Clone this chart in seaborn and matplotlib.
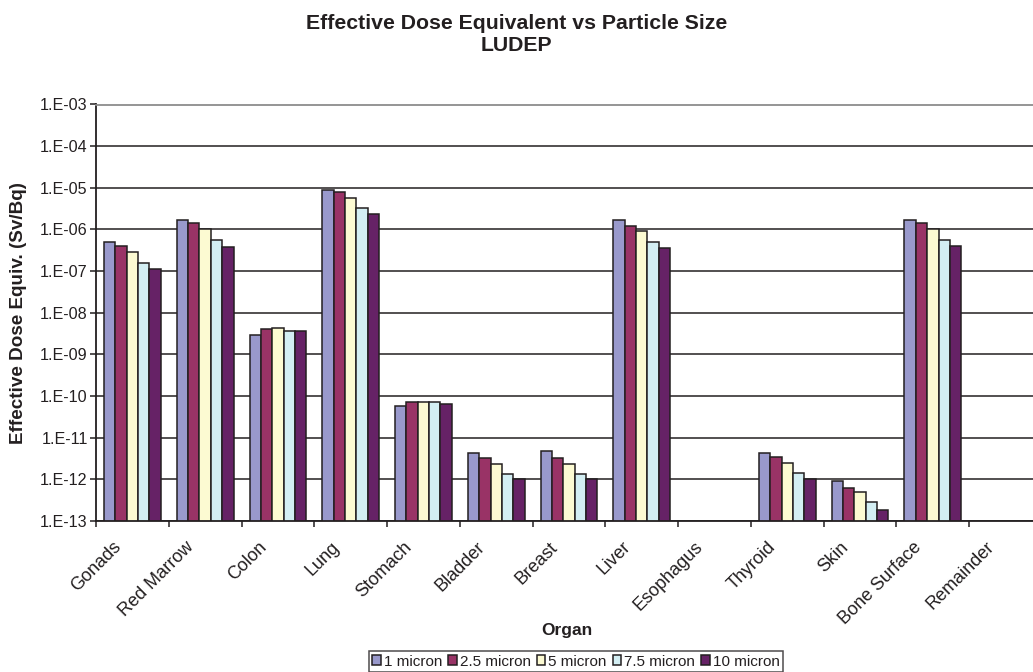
import numpy as np
import pandas as pd
import matplotlib
matplotlib.use("Agg")
import matplotlib.pyplot as plt
import matplotlib.ticker as mticker
import matplotlib.transforms as mtransforms
import seaborn as sns

# Organs on the x axis
organs = ["Gonads", "Red Marrow", "Colon", "Lung", "Stomach", "Bladder", "Breast",
          "Liver", "Esophagus", "Thyroid", "Skin", "Bone Surface", "Remainder"]

# Particle sizes (legend entries)
sizes = ["1 micron", "2.5 micron", "5 micron", "7.5 micron", "10 micron"]

# Effective dose equivalent (Sv/Bq) per organ, one list per particle size
dose_1 = [5.1e-7, 1.73e-6, 2.95e-9, 8.7e-6, 5.8e-11, 4.2e-12, 4.7e-12,
          1.73e-6, np.nan, 4.3e-12, 9.1e-13, 1.73e-6, np.nan]
dose_2_5 = [4.0e-7, 1.4e-6, 4.1e-9, 7.9e-6, 7.2e-11, 3.3e-12, 3.3e-12,
            1.22e-6, np.nan, 3.4e-12, 6.3e-13, 1.4e-6, np.nan]
dose_5 = [2.8e-7, 1.0e-6, 4.2e-9, 5.6e-6, 7.2e-11, 2.3e-12, 2.3e-12,
          9.1e-7, np.nan, 2.5e-12, 5.0e-13, 1.0e-6, np.nan]
dose_7_5 = [1.56e-7, 5.6e-7, 3.6e-9, 3.2e-6, 7.2e-11, 1.38e-12, 1.38e-12,
            5.1e-7, np.nan, 1.44e-12, 2.8e-13, 5.5e-7, np.nan]
dose_10 = [1.1e-7, 3.7e-7, 3.6e-9, 2.4e-6, 6.3e-11, 1.0e-12, 1.0e-12,
           3.5e-7, np.nan, 1.0e-12, 1.8e-13, 4.1e-7, np.nan]

colors = ["#9999CC", "#993366", "#FCFAD2", "#D3EEF3", "#662266"]

series = [dose_1, dose_2_5, dose_5, dose_7_5, dose_10]
df = pd.DataFrame({
    "Organ": np.tile(organs, len(sizes)),
    "Size": np.repeat(sizes, len(organs)),
    "Dose": np.concatenate([np.asarray(s, dtype=float) for s in series]),
})

sns.set_theme(style="white")
plt.rcParams["font.family"] = ["Liberation Sans", "DejaVu Sans"]

fig = plt.figure(figsize=(10.33, 6.72), dpi=100)
W, H = 1033, 672
ax_l, ax_r, ax_t, ax_b = 96, 1042, 104.5, 521
ax = fig.add_axes([ax_l / W, 1 - ax_b / H, (ax_r - ax_l) / W, (ax_b - ax_t) / H])

sns.barplot(data=df, x="Organ", y="Dose", hue="Size", order=organs,
            hue_order=sizes, palette=colors, errorbar=None, width=0.78,
            edgecolor="#231F20", linewidth=1.1, saturation=1, ax=ax)

ax.set_yscale("log")
ax.set_ylim(1e-13, 1e-3)
ax.set_xlim(-0.5, len(organs) - 0.5)

# Decade ticks labelled in spreadsheet style, e.g. 1.E-06
ax.yaxis.set_major_locator(mticker.LogLocator(base=10, numticks=20))
ax.yaxis.set_minor_locator(mticker.NullLocator())
ax.yaxis.set_major_formatter(
    mticker.FuncFormatter(lambda v, p: "1.E{:+03d}".format(int(round(np.log10(v))))))

ax.set_axisbelow(True)
ax.yaxis.grid(True, color="#231F20", linewidth=1.1)
ax.xaxis.grid(False)

for side in ["left", "bottom"]:
    ax.spines[side].set_color("#231F20")
    ax.spines[side].set_linewidth(1.3)
ax.spines["right"].set_visible(False)
ax.spines["top"].set_color("#8C8C8C")
ax.spines["top"].set_linewidth(1.3)

ax.tick_params(axis="y", which="major", direction="out", length=4, width=1.1,
               color="#231F20", labelsize=11.6, labelcolor="#231F20", pad=2, left=True)
# Category separators as minor ticks; labels sit on the hidden major ticks
ax.xaxis.set_minor_locator(mticker.FixedLocator(np.arange(-0.5, len(organs), 1.0)))
ax.tick_params(axis="x", which="minor", direction="out", length=4, width=1.1,
               color="#231F20", bottom=True)
ax.tick_params(axis="x", which="major", length=0, labelsize=13,
               labelcolor="#231F20", pad=17)
shift = mtransforms.ScaledTranslation(-14 / 100, 0, fig.dpi_scale_trans)
for lab in ax.get_xticklabels():
    lab.set_rotation(45)
    lab.set_ha("right")
    lab.set_va("center")
    lab.set_rotation_mode("anchor")
    lab.set_transform(lab.get_transform() + shift)

ax.set_xlabel("Organ", fontsize=12.5, fontweight="bold", color="#231F20", va="center")
ax.xaxis.set_label_coords((567 - ax_l) / (ax_r - ax_l), -(630 - ax_b) / (ax_b - ax_t))
ax.set_ylabel("Effective Dose Equiv. (Sv/Bq)", fontsize=13.6, fontweight="bold",
              color="#231F20", va="center")
ax.yaxis.set_label_coords(-(ax_l - 19) / (ax_r - ax_l), 0.5)

fig.suptitle("Effective Dose Equivalent vs Particle Size\nLUDEP", x=0.5,
             y=1 - 34.5 / H, va="center", fontsize=15.3, fontweight="bold",
             color="#231F20", linespacing=1.2)

ax.get_legend().remove()
handles, labels = ax.get_legend_handles_labels()
leg = fig.legend(handles[:len(sizes)], labels[:len(sizes)], loc="center",
                 bbox_to_anchor=(576 / W, 1 - 661.5 / H), ncol=5, frameon=True,
                 fancybox=False, edgecolor="#231F20", fontsize=11,
                 handlelength=0.55, handleheight=0.55, handletextpad=0.2,
                 columnspacing=0.4, borderpad=0.2, borderaxespad=0)
leg.get_frame().set_linewidth(1.1)
for t in leg.get_texts():
    t.set_color("#231F20")

fig.savefig("out.png", dpi=100)
